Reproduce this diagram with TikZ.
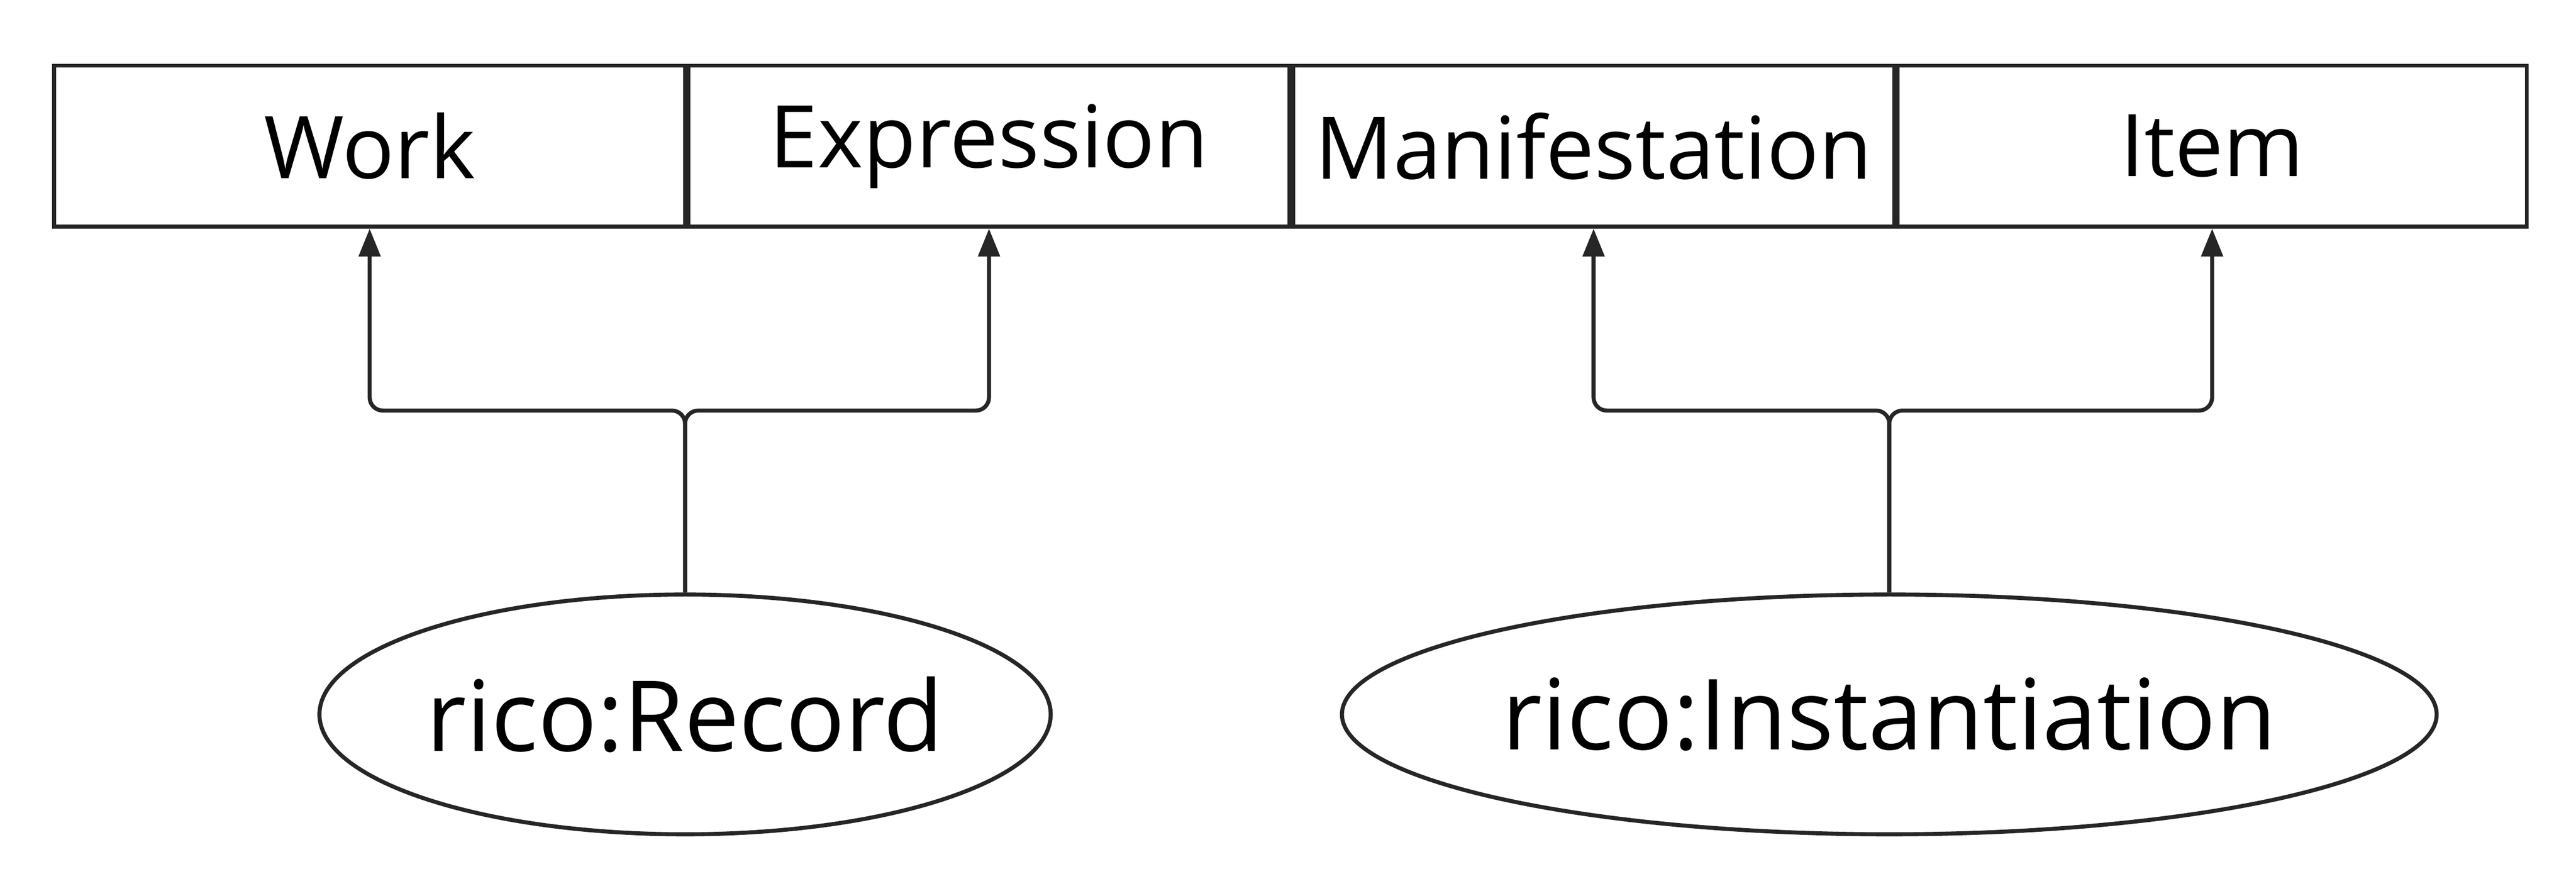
\documentclass[tikz,border=0pt]{standalone}
\usepackage{fontspec}
\setmainfont{Open Sans}
\usetikzlibrary{positioning,shapes.geometric,arrows.meta}

\tikzset{
  frbr/.style={draw=black!85, line width=0.7pt, minimum height=0.98cm, inner sep=0pt, font=\fontsize{15}{18}\selectfont},
  rico/.style={ellipse, draw=black!85, line width=0.7pt, minimum height=1.46cm, inner sep=0pt, font=\fontsize{17}{20}\selectfont},
  link/.style={draw=black!85, line width=0.7pt, rounded corners=0.08cm, -{Triangle[length=0.17cm,width=0.13cm]}}
}

\begin{document}
\begin{tikzpicture}
		\useasboundingbox (0,0) rectangle (15.68,-5.32);
		\node[frbr, minimum width=3.84cm] (Work) at (2.25,-0.89) {Work};
		\node[frbr, minimum width=3.66cm] (Expr) at (6.02,-0.89) {Expression};
		\node[frbr, minimum width=3.66cm] (Manif) at (9.70,-0.89) {Manifestation};
		\node[frbr, minimum width=3.83cm] (Item) at (13.465,-0.89) {Item};
		\node[rico, minimum width=3.84cm] (Record) at (4.17,-4.35) {rico:Record};
		\node[rico, minimum width=5.76cm] (Inst) at (11.50,-4.35) {rico:Instantiation};
		% record to work and expression
		\draw[link] (Record.north) -- (4.17,-2.50) -- (2.25,-2.50) -- (Work.south);
		\draw[link] (Record.north) -- (4.17,-2.50) -- (6.02,-2.50) -- (Expr.south);
		% instantiation to manifestation and item
		\draw[link] (Inst.north) -- (11.50,-2.50) -- (9.70,-2.50) -- (Manif.south);
		\draw[link] (Inst.north) -- (11.50,-2.50) -- (13.465,-2.50) -- (Item.south);
\end{tikzpicture}
\end{document}
